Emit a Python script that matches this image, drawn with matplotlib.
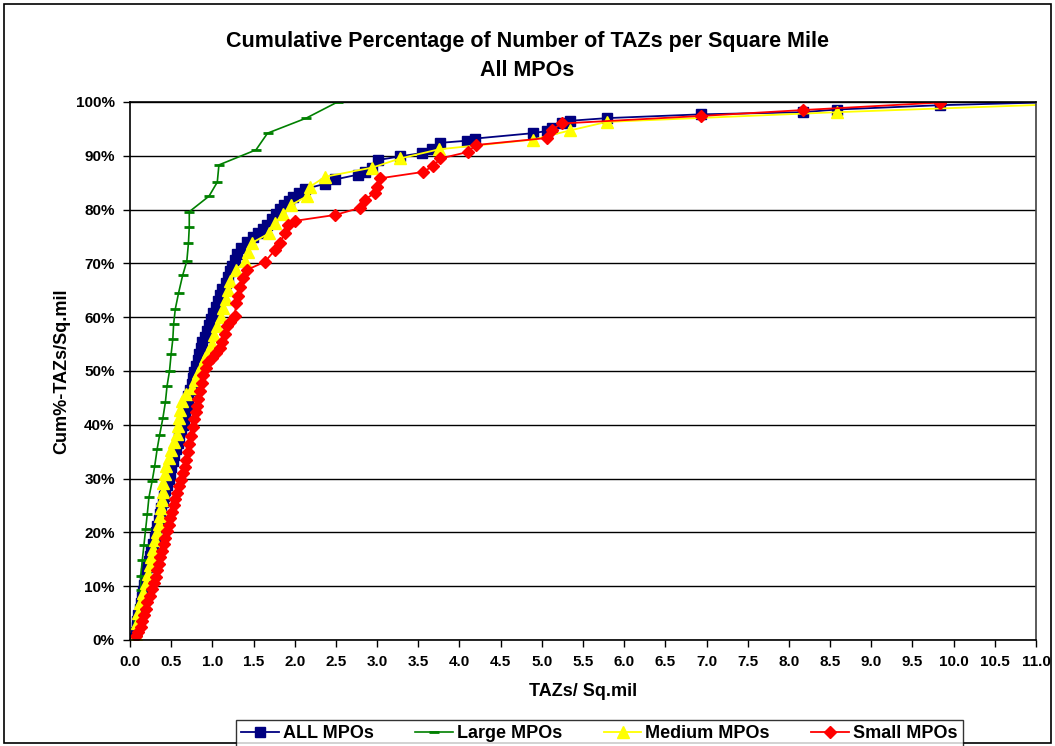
import matplotlib
matplotlib.use("Agg")
import matplotlib.pyplot as plt
from matplotlib.patches import Rectangle
from matplotlib.ticker import FuncFormatter

plt.rcParams['font.family'] = ['Liberation Sans', 'DejaVu Sans']
plt.rcParams['font.weight'] = 'bold'

# ALL MPOs (x = TAZs per sq mile, y = cumulative %)
all_x = [0.05, 0.07, 0.08, 0.09, 0.10, 0.12, 0.13, 0.14, 0.16, 0.17, 0.18, 0.20, 0.21, 0.23, 0.24,
         0.26, 0.28, 0.30, 0.31, 0.33, 0.35, 0.36, 0.38, 0.40, 0.41, 0.43, 0.45, 0.47, 0.49, 0.50,
         0.52, 0.54, 0.56, 0.58, 0.60, 0.62, 0.64, 0.66, 0.67, 0.69, 0.70, 0.71, 0.73, 0.75, 0.76,
         0.78, 0.80, 0.82, 0.84, 0.86, 0.88, 0.91, 0.93, 0.96, 0.98, 1.01, 1.04, 1.07, 1.09, 1.12,
         1.16, 1.19, 1.21, 1.24, 1.27, 1.30, 1.35, 1.42, 1.49, 1.56, 1.61, 1.66, 1.72, 1.77, 1.82,
         1.87, 1.93, 1.98, 2.05, 2.12, 2.37, 2.49, 2.77, 2.85, 2.94, 3.01, 3.28, 3.54, 3.67, 3.76,
         4.09, 4.19, 4.89, 5.06, 5.12, 5.24, 5.34, 5.79, 6.93, 8.17, 8.58, 9.83, 11.3]
all_y = [0.3, 1.4, 2.5, 3.6, 4.7, 5.8, 6.9, 8.0, 9.1, 10.2, 11.3, 12.4, 13.5, 14.6, 15.7,
         16.8, 17.9, 19.0, 20.1, 21.2, 22.3, 23.4, 24.5, 25.6, 26.7, 27.8, 28.9, 30.0, 31.1, 32.2,
         33.3, 34.4, 35.5, 36.6, 37.7, 38.8, 39.9, 41.0, 42.1, 43.2, 44.3, 45.4, 46.5, 47.6, 48.7,
         49.8, 50.9, 52.0, 53.1, 54.2, 55.3, 56.4, 57.5, 58.6, 59.7, 60.8, 61.9, 63.0, 64.1, 65.2,
         66.3, 67.4, 68.5, 69.6, 70.7, 71.8, 72.9, 73.9, 74.9, 75.6, 76.3, 77.2, 78.2, 79.2, 80.1,
         80.9, 81.6, 82.3, 83.0, 83.8, 84.8, 85.6, 86.5, 87.0, 87.7, 89.2, 89.9, 90.5, 91.2, 92.4,
         92.8, 93.2, 94.2, 94.6, 95.2, 96.0, 96.5, 97.0, 97.7, 98.1, 98.6, 99.4, 100.0]

# Large MPOs
large_x = [0.08, 0.10, 0.12, 0.13, 0.13, 0.15, 0.17, 0.19, 0.21, 0.23, 0.27, 0.30, 0.33, 0.36,
           0.40, 0.43, 0.45, 0.48, 0.50, 0.52, 0.53, 0.55, 0.59, 0.64, 0.69, 0.71, 0.72, 0.72,
           0.96, 1.06, 1.08, 1.53, 1.67, 2.14, 2.52]
large_y = [1.0, 3.5, 6.5, 9.3, 11.9, 14.9, 17.7, 20.6, 23.4, 26.5, 29.6, 32.3, 35.5, 38.1,
           41.3, 44.2, 47.2, 50.0, 53.2, 55.9, 58.7, 61.5, 64.5, 67.8, 70.4, 73.8, 76.8, 79.6,
           82.5, 85.1, 88.3, 91.1, 94.2, 97.0, 100.0]

# Medium MPOs
med_x = [0.07, 0.08, 0.10, 0.12, 0.16, 0.20, 0.22, 0.24, 0.26, 0.28, 0.30, 0.33, 0.35, 0.36,
         0.38, 0.39, 0.40, 0.40, 0.42, 0.44, 0.47, 0.50, 0.54, 0.57, 0.58, 0.59, 0.61, 0.63,
         0.68, 0.75, 0.79, 0.83, 0.87, 0.91, 0.95, 0.99, 1.02, 1.06, 1.10, 1.13, 1.16, 1.19,
         1.22, 1.29, 1.40, 1.43, 1.48, 1.69, 1.76, 1.86, 1.96, 2.15, 2.18, 2.37, 2.94, 3.28,
         3.75, 4.89, 5.34, 5.79, 8.58, 11.3]
med_y = [1.0, 3.2, 5.0, 6.9, 8.7, 10.6, 12.2, 13.9, 15.5, 17.0, 18.5, 20.0, 21.5, 23.0,
         24.5, 26.0, 27.5, 29.2, 30.8, 32.3, 33.8, 35.3, 36.8, 38.3, 39.8, 41.3, 42.8, 44.4,
         45.7, 46.9, 48.3, 49.7, 51.1, 52.4, 53.5, 55.0, 56.6, 58.3, 60.0, 61.7, 63.3, 65.0,
         66.8, 68.8, 70.5, 72.1, 73.8, 75.6, 77.5, 79.2, 80.9, 82.5, 84.2, 86.1, 87.8, 89.5,
         91.2, 93.0, 94.7, 96.3, 98.1, 99.6]

# Small MPOs
small_x = [0.07, 0.10, 0.13, 0.15, 0.17, 0.19, 0.21, 0.24, 0.27, 0.29, 0.31, 0.33, 0.35, 0.37,
           0.39, 0.41, 0.43, 0.45, 0.47, 0.49, 0.51, 0.53, 0.55, 0.57, 0.59, 0.62, 0.64, 0.67,
           0.68, 0.70, 0.72, 0.74, 0.77, 0.78, 0.80, 0.81, 0.83, 0.85, 0.87, 0.89, 0.92, 0.95,
           1.00, 1.05, 1.09, 1.12, 1.15, 1.18, 1.22, 1.27, 1.29, 1.31, 1.33, 1.37, 1.42, 1.64,
           1.76, 1.82, 1.88, 1.92, 2.00, 2.49, 2.79, 2.85, 2.97, 3.00, 3.03, 3.56, 3.68, 3.77,
           4.10, 4.20, 5.06, 5.12, 5.24, 6.93, 8.17, 9.84]
small_y = [0.7, 1.5, 2.5, 3.6, 4.7, 5.8, 7.0, 8.2, 9.4, 10.6, 11.8, 13.0, 14.2, 15.4,
           16.6, 17.8, 19.0, 20.2, 21.4, 22.6, 23.8, 25.0, 26.2, 27.4, 28.6, 29.8, 31.0, 32.2,
           33.5, 35.0, 36.5, 38.0, 39.6, 41.0, 42.3, 43.5, 44.8, 46.2, 47.8, 49.3, 50.5, 51.7,
           52.5, 53.3, 54.3, 55.4, 56.8, 58.3, 59.1, 60.2, 62.6, 64.0, 65.6, 67.2, 68.8, 70.3,
           72.5, 73.8, 75.6, 77.1, 77.9, 79.0, 80.3, 81.8, 83.1, 84.2, 85.8, 87.0, 88.1, 89.5,
           90.7, 92.0, 93.3, 94.8, 96.0, 97.4, 98.5, 99.9]

fig = plt.figure(figsize=(10.55, 7.46), dpi=100)
fig.patches.append(Rectangle((0.004, 0.004), 0.992, 0.99, transform=fig.transFigure,
                             fill=False, edgecolor='black', linewidth=1.2))
ax = fig.add_axes([0.1232, 0.1421, 0.8588, 0.7212])

ax.plot(all_x, all_y, color='#000080', marker='s', markersize=6.5, linewidth=1.3,
        label='ALL MPOs')
ax.plot(large_x, large_y, color='#008000', marker='_', markersize=7, markeredgewidth=2,
        linewidth=1.2, label='Large MPOs')
ax.plot(med_x, med_y, color='#FFFF00', marker='^', markersize=8, linewidth=1.3,
        label='Medium MPOs')
ax.plot(small_x, small_y, color='#FF0000', marker='D', markersize=6.5, linewidth=1.3,
        label='Small MPOs')

ax.set_xlim(0, 11)
ax.set_ylim(0, 100)
ax.set_xticks([i * 0.5 for i in range(23)])
ax.set_yticks(range(0, 101, 10))
ax.xaxis.set_major_formatter(FuncFormatter(lambda v, p: f"{v:.1f}"))
ax.yaxis.set_major_formatter(FuncFormatter(lambda v, p: f"{int(v)}%"))
ax.tick_params(labelsize=11, length=5, width=1, direction='out', pad=6)
ax.grid(axis='y', color='black', linewidth=1)
ax.set_axisbelow(True)
for s in ax.spines.values():
    s.set_linewidth(1.2)
ax.spines['right'].set_color('#404040')

ax.set_xlabel('TAZs/ Sq.mil', fontsize=13, fontweight='bold', labelpad=10)
ax.set_ylabel('Cum%-TAZs/Sq.mil', fontsize=13, fontweight='bold', labelpad=4)
fig.text(0.5, 0.944, 'Cumulative Percentage of Number of TAZs per Square Mile',
         ha='center', va='center', fontsize=15.5, fontweight='bold')
fig.text(0.5, 0.906, 'All MPOs', ha='center', va='center', fontsize=15.5, fontweight='bold')

leg = fig.legend(loc='upper center', bbox_to_anchor=(0.568, 0.035), ncol=4, frameon=True,
                 fancybox=False, edgecolor='black', fontsize=13, handlelength=2.1,
                 handletextpad=0.2, columnspacing=2.3, borderpad=0.3, borderaxespad=0)
leg.get_frame().set_linewidth(1)

fig.savefig('out.png', dpi=100)
